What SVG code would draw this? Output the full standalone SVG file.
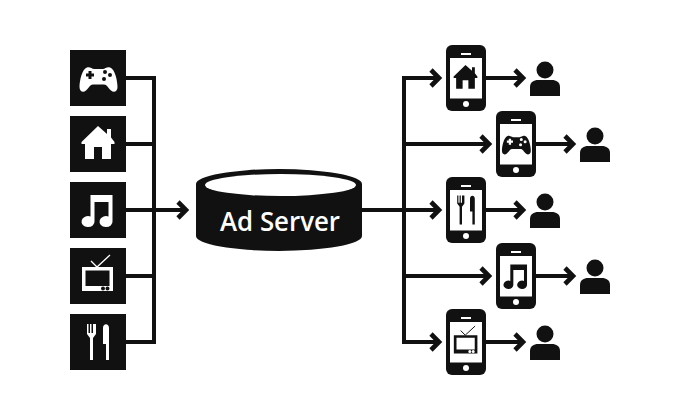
<svg xmlns="http://www.w3.org/2000/svg" xmlns:xlink="http://www.w3.org/1999/xlink" width="680" height="420" viewBox="0 0 680 420">
<style>
.tile{fill:#111}
.icon-l{color:#fff}
.icon-p{color:#111}
.wire{fill:none;stroke:#111;stroke-width:4}
.label{font-family:"Open Sans","Liberation Sans",sans-serif;font-size:27px;font-weight:600;fill:#fff}
</style>
<defs>
<marker id="chev" markerUnits="userSpaceOnUse" markerWidth="16" markerHeight="24" refX="13" refY="12" orient="auto">
<path d="M4 4 L12 12 L4 20" fill="none" stroke="#111" stroke-width="4.600"/>
</marker>
<g id="i-game"><path fill="currentColor" fill-rule="evenodd" d="M-11,-10.500 C-8,-11.500 -6,-9 -4,-9 H5 C7,-9 9,-11.500 12,-10.500 C17,-9 19.500,3 19.500,9 C19.500,13.500 16,15 13,12.500 C10,10 9,6.500 6,6.500 H-5 C-8,6.500 -9,10 -12,12.500 C-15,15 -18.500,13.500 -18.500,9 C-18.500,3 -16,-9 -11,-10.500 Z M-9.500,-7 h3 v2.500 h2.500 v3 h-2.500 v2.500 h-3 v-2.500 h-2.500 v-3 h2.500 z M5,-6 a2,2 0 1,0 4,0 a2,2 0 1,0 -4,0 z M10,-3 a2,2 0 1,0 4,0 a2,2 0 1,0 -4,0 z M4,1 a2,2 0 1,0 4,0 a2,2 0 1,0 -4,0 z"/></g>
<g id="i-home"><path fill="currentColor" d="M0,-18 L9,-10 V-15 H13 V-6.500 L16.500,-2 V0 H13 V15 H4 V3 H-4 V15 H-13 V0 H-16.500 V-2 Z"/></g>
<g id="i-music"><path fill="currentColor" fill-rule="evenodd" d="M-7.500,-15 H14.500 V11 A6.500,5.500 0 1,1 10.500,6.500 V-8 H-3.500 V11 A6.500,5.500 0 1,1 -7.500,6.500 Z"/></g>
<g id="i-tv"><path fill="currentColor" fill-rule="evenodd" d="M-16,-9 H15 V15 H-16 Z M-12.500,-5.500 V10 H11.500 V-5.500 Z M3,12.500 a2,2 0 1,0 4,0 a2,2 0 1,0 -4,0 z M7.500,12.500 a2,2 0 1,0 4,0 a2,2 0 1,0 -4,0 z"/><path fill="none" stroke="currentColor" stroke-width="1.300" d="M-7,-15 L-1,-9 L12,-21"/></g>
<g id="i-food"><path fill="currentColor" d="M-11,-18 H-9.500 V-9 H-8 V-18 H-6.500 V-9 H-5 V-18 H-3.500 V-18 H-2 V-8 L-5,-4 V18 H-8 V-4 L-11,-8 Z M5,-14 C5,-19 11,-19 11,-14 V18 H8 V2 H5 Z"/></g>
<g id="i-user"><circle cx="0" cy="-8" r="8.500" fill="#111"/><path fill="#111" d="M-15,18 V9 C-15,4 -11,2 -7,2 H7 C11,2 15,4 15,9 V18 Z"/></g>
<g id="phone"><rect x="0" y="0" width="40" height="66" rx="6" fill="#111"/><rect x="4" y="13" width="32" height="40.500" fill="#fff"/><rect x="15" y="8" width="10" height="2" fill="#fff"/><circle cx="20" cy="59" r="3" fill="#fff"/></g>
</defs>
<rect width="680" height="420" fill="#fff"/>

<g id="connectors">
<path class="wire" d="M126 78 H154 V342 H126 M126 144 H154 M126 276 H154"/>
<path class="wire" d="M126 210 H187" marker-end="url(#chev)"/>
<path class="wire" d="M362 210 H404"/>
<path class="wire" d="M404 210 V78 H440" marker-end="url(#chev)"/>
<path class="wire" d="M404 210 V342 H440" marker-end="url(#chev)"/>
<path class="wire" d="M404 144 H490" marker-end="url(#chev)"/>
<path class="wire" d="M404 210 H440" marker-end="url(#chev)"/>
<path class="wire" d="M404 276 H490" marker-end="url(#chev)"/>
<path class="wire" d="M486 78 H524" marker-end="url(#chev)"/>
<path class="wire" d="M536 144 H574" marker-end="url(#chev)"/>
<path class="wire" d="M486 210 H524" marker-end="url(#chev)"/>
<path class="wire" d="M536 276 H574" marker-end="url(#chev)"/>
<path class="wire" d="M486 342 H524" marker-end="url(#chev)"/>
</g>

<g id="src-game"><rect class="tile" x="70" y="50" width="56" height="56"/><use href="#i-game" class="icon-l" transform="translate(98 78)"/></g>
<g id="src-home"><rect class="tile" x="70" y="116" width="56" height="56"/><use href="#i-home" class="icon-l" transform="translate(98 144)"/></g>
<g id="src-music"><rect class="tile" x="70" y="182" width="56" height="56"/><use href="#i-music" class="icon-l" transform="translate(98 210)"/></g>
<g id="src-tv"><rect class="tile" x="70" y="248" width="56" height="56"/><use href="#i-tv" class="icon-l" transform="translate(98 276)"/></g>
<g id="src-food"><rect class="tile" x="70" y="314" width="56" height="56"/><use href="#i-food" class="icon-l" transform="translate(98 342)"/></g>

<g id="ad-server">
<path fill="#111" d="M196 184 A83 15 0 0 1 362 184 V236 A83 15 0 0 1 196 236 Z"/>
<ellipse cx="280.500" cy="185" rx="75.500" ry="11" fill="#fff"/>
<text class="label" x="280" y="231" text-anchor="middle" textLength="120" lengthAdjust="spacingAndGlyphs">Ad Server</text>
</g>

<g id="phone-home"><use href="#phone" x="446" y="45"/><use href="#i-home" class="icon-p" transform="translate(465.500 78) scale(.72)"/></g>
<g id="phone-game"><use href="#phone" x="496" y="111"/><use href="#i-game" class="icon-p" transform="translate(516 144) scale(.76)"/></g>
<g id="phone-food"><use href="#phone" x="446" y="177"/><use href="#i-food" class="icon-p" transform="translate(466 210) scale(.8)"/></g>
<g id="phone-music"><use href="#phone" x="496" y="243"/><use href="#i-music" class="icon-p" transform="translate(516 276) scale(.76)"/></g>
<g id="phone-tv"><use href="#phone" x="446" y="309"/><use href="#i-tv" class="icon-p" transform="translate(466 342) scale(.76)"/></g>

<g id="user-1"><use href="#i-user" x="545" y="78"/></g>
<g id="user-2"><use href="#i-user" x="595" y="144"/></g>
<g id="user-3"><use href="#i-user" x="545" y="210"/></g>
<g id="user-4"><use href="#i-user" x="595" y="276"/></g>
<g id="user-5"><use href="#i-user" x="545" y="342"/></g>
</svg>
